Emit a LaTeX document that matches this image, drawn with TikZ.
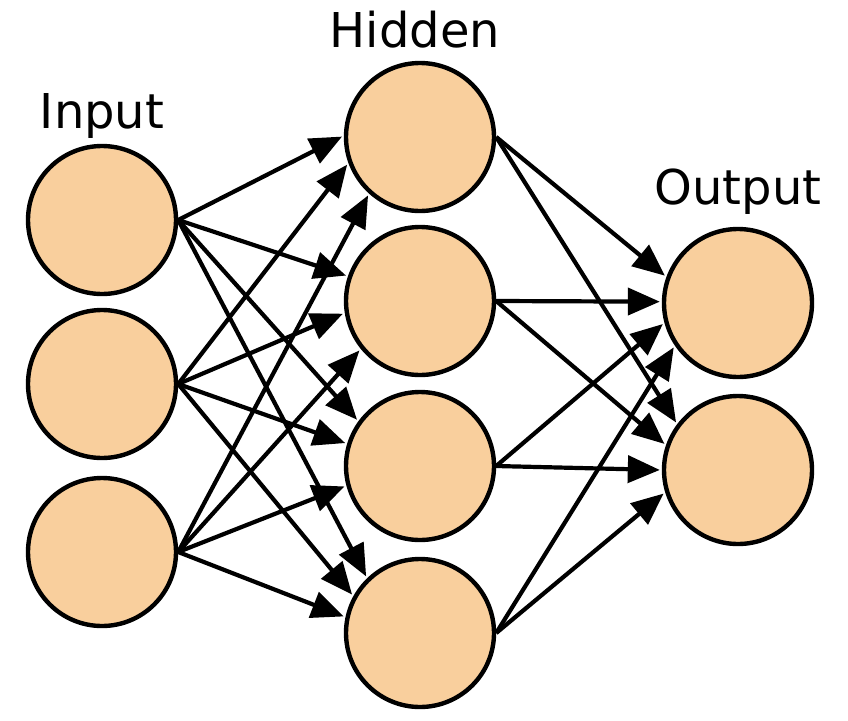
\documentclass[tikz,border=0pt]{standalone}
\usepackage{fontspec}
\setmainfont{DejaVu Sans}
\usetikzlibrary{arrows.meta}
\definecolor{neuron}{HTML}{F9CF9D}
\begin{document}
\begin{tikzpicture}[x=1pt,y=-1pt,
  neuronnode/.style={circle,draw=black,line width=4.4pt,fill=neuron,minimum size=148pt,inner sep=0pt},
  conn/.style={line width=4.2pt,-{Triangle[length=32pt,width=27pt]},shorten >=2pt},
  layerlabel/.style={anchor=base,font=\fontsize{48}{56}\selectfont}]
\useasboundingbox (0,0) rectangle (848,720);
\node[neuronnode] (i1) at (102,220) {};
\node[neuronnode] (i2) at (102,384) {};
\node[neuronnode] (i3) at (102,552) {};
\node[neuronnode] (h1) at (420,137) {};
\node[neuronnode] (h2) at (420,301) {};
\node[neuronnode] (h3) at (420,466) {};
\node[neuronnode] (h4) at (420,633) {};
\node[neuronnode] (o1) at (738,303) {};
\node[neuronnode] (o2) at (738,470) {};
\node[layerlabel] (li) at (102,128) {Input};
\node[layerlabel] (lh) at (415,47) {Hidden};
\node[layerlabel] (lo) at (738,204) {Output};
% input -> hidden
\draw[conn] (i1.east) -- (h1.179);
\draw[conn] (i2.east) -- (h1.200);
\draw[conn] (i3.east) -- (h1.228);
\draw[conn] (i1.east) -- (h2.161);
\draw[conn] (i2.east) -- (h2.189);
\draw[conn] (i3.east) -- (h2.219);
\draw[conn] (i1.east) -- (h3.144);
\draw[conn] (i2.east) -- (h3.163);
\draw[conn] (i3.east) -- (h3.195);
\draw[conn] (i1.east) -- (h4.134);
\draw[conn] (i2.east) -- (h4.151);
\draw[conn] (i3.east) -- (h4.168);
% hidden -> output
\draw[conn] (h1.east) -- (o1.160);
\draw[conn] (h2.east) -- (o1.179);
\draw[conn] (h3.east) -- (o1.195);
\draw[conn] (h4.east) -- (o1.214);
\draw[conn] (h1.east) -- (o2.143);
\draw[conn] (h2.east) -- (o2.161);
\draw[conn] (h3.east) -- (o2.180);
\draw[conn] (h4.east) -- (o2.197);
\end{tikzpicture}
\end{document}
